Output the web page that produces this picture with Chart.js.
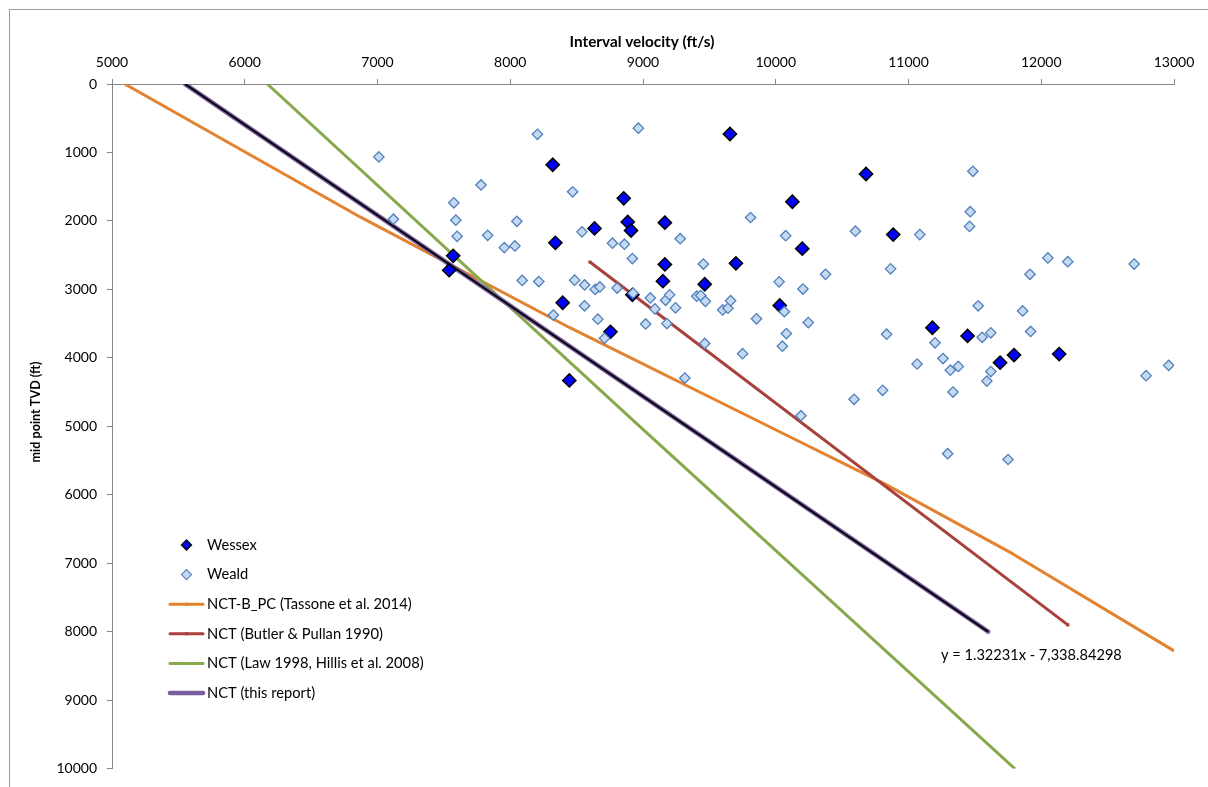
<!DOCTYPE html>
<html>
<head>
<meta charset="utf-8">
<script src="https://cdn.jsdelivr.net/npm/chart.js@4.4.1/dist/chart.umd.min.js"></script>
<style>
html,body{margin:0;padding:0;background:#fff;}
#wrap{position:relative;width:1208px;height:787px;}
</style>
</head>
<body>
<div id="wrap"><canvas id="c" width="1208" height="787"></canvas></div>
<script>
// ---------- data ----------
const xTitle = 'Interval velocity (ft/s)';
const yTitle = 'mid point TVD (ft)';
const xMin = 5000, xMax = 13000, xStep = 1000;
const yMin = 0, yMax = 10000, yStep = 1000;

const wessexLabel = 'Wessex';
const wessexVel = [8320, 8635, 8340, 7570, 7540, 8395, 8755, 9655, 8855, 10125, 8885, 8910, 9165, 10200,
  9165, 9700, 9150, 9465, 8920, 10030, 8445, 10680, 10885, 11180, 11445, 11795, 12135, 11690];
const wessexDepth = [1180, 2110, 2320, 2510, 2720, 3195, 3620, 730, 1670, 1720, 2015, 2140, 2025, 2405,
  2635, 2620, 2880, 2925, 3080, 3235, 4330, 1315, 2200, 3560, 3680, 3960, 3945, 4070];

const wealdLabel = 'Weald';
const wealdVel = [7010, 8205, 7780, 8470, 7575, 7120, 7590, 8050, 7600, 7830, 8540, 7955, 8035, 8770,
  8090, 8215, 8485, 8560, 8640, 8675, 8805, 8560, 8325, 8660, 8710,
  8965, 9810, 10075, 10600, 8860, 9280, 8920, 9455, 10025, 10205, 10375, 8925, 9055, 9170, 9200,
  9090, 9245, 9405, 9435, 9470, 9600, 9640, 9660, 10065, 9855, 10245, 9020, 9180, 10080, 10050, 9465, 9750,
  11485, 11465, 11460, 11085, 10865, 12050, 12200, 12700, 11915, 11525, 11860, 10835, 11200, 11555,
  11620, 11920, 11260, 11065, 12960,
  9315, 10590, 10190, 11315, 11375, 11620, 11590, 10805, 11335, 12790, 11295, 11750];
const wealdDepth = [1065, 735, 1475, 1575, 1735, 1975, 1990, 2005, 2225, 2210, 2160, 2390, 2365, 2325,
  2870, 2885, 2865, 2935, 3000, 2965, 2980, 3240, 3375, 3435, 3715,
  645, 1950, 2215, 2150, 2340, 2260, 2550, 2630, 2890, 2995, 2780, 3055, 3125, 3160, 3080,
  3285, 3270, 3100, 3090, 3175, 3300, 3275, 3165, 3325, 3430, 3485, 3505, 3500, 3645, 3830, 3790, 3940,
  1275, 1865, 2080, 2200, 2700, 2540, 2595, 2630, 2780, 3240, 3315, 3655, 3780, 3700,
  3635, 3615, 4010, 4090, 4110,
  4295, 4605, 4845, 4180, 4125, 4200, 4340, 4475, 4500, 4260, 5400, 5485];

const tassoneLabel = 'NCT-B_PC (Tassone et al. 2014)';
const tassoneVel = [5096, 6869, 8449, 9881, 10810, 11790, 13000];
const tassoneDepth = [0, 1942, 3560, 4937, 5831, 6868, 8280];

const butlerLabel = 'NCT (Butler & Pullan 1990)';
const butlerVel = [8600, 12200];
const butlerDepth = [2600, 7900];

const lawLabel = 'NCT (Law 1998, Hillis et al. 2008)';
const lawVel = [6170, 8940, 11800];
const lawDepth = [0, 4940, 10000];

const reportLabel = 'NCT (this report)';
const reportVel = [5550, 11600];
const reportDepth = [0, 8000];

const trendText = 'y = 1.32231x - 7,338.84298';
const trendTextAt = {x: 11245, y: 8350};

// ---------- styles ----------
const FONT = 'Lato, "Open Sans", "DejaVu Sans", sans-serif';
const AXIS_GREY = '#868686';
const C_ORANGE = '#E3822F', C_RED = '#A8413C', C_GREEN = '#88A94B', C_PURPLE = '#7B5EA0';

const pts = (xs, ys) => xs.map((x, i) => ({x: x, y: ys[i]}));

const lineDs = (label, xs, ys, color, width, order, extra) => Object.assign({
  label: label, data: pts(xs, ys), showLine: true, borderColor: color, backgroundColor: color,
  borderWidth: width, pointRadius: 1.6, pointStyle: 'rect', pointBorderWidth: 0,
  pointBackgroundColor: color, order: order, tension: 0, borderJoinStyle: 'round'
}, extra || {});

const datasets = [
  {label: wealdLabel, data: pts(wealdVel, wealdDepth), pointStyle: 'rectRot', pointRadius: 5.2,
   backgroundColor: '#C6D9F1', borderColor: '#4F81BD', borderWidth: 1.3, order: 0, legend: 'weald'},
  {label: wessexLabel, data: pts(wessexVel, wessexDepth), pointStyle: 'rectRot', pointRadius: 6.6,
   backgroundColor: '#0000FF', borderColor: '#000000', borderWidth: 1.5, order: 1, legend: 'wessex'},
  lineDs('trendline', reportVel, reportDepth, '#000000', 1.8, 2, {pointRadius: 0}),
  lineDs(reportLabel, reportVel, reportDepth, C_PURPLE, 4.6, 3, {pointRadius: 0, borderCapStyle: 'round'}),
  lineDs(lawLabel, lawVel, lawDepth, C_GREEN, 3, 4),
  lineDs(butlerLabel, butlerVel, butlerDepth, C_RED, 3, 5, {pointRadius: 2.2}),
  lineDs(tassoneLabel, tassoneVel, tassoneDepth, C_ORANGE, 3, 6, {pointRadius: 0})
];
const legendOrder = [wessexLabel, wealdLabel, tassoneLabel, butlerLabel, lawLabel, reportLabel];

// ---------- plugins ----------
const framePlugin = {
  id: 'frame',
  beforeDraw(chart) {
    const c = chart.ctx;
    c.save();
    c.fillStyle = '#ffffff';
    c.fillRect(0, 0, chart.width, chart.height);
    c.strokeStyle = '#9c9c9c';
    c.lineWidth = 1;
    c.strokeRect(9.5, 9.5, chart.width + 20, chart.height + 20);
    c.restore();
  }
};

const titlesPlugin = {
  id: 'axisTitles',
  afterDraw(chart, args, opts) {
    const c = chart.ctx;
    c.save();
    c.fillStyle = '#000';
    c.textAlign = 'center';
    c.textBaseline = 'middle';
    c.font = 'bold ' + opts.xSize + 'px ' + FONT;
    c.fillText(xTitle, opts.xAt[0], opts.xAt[1]);
    c.translate(opts.yAt[0], opts.yAt[1]);
    c.rotate(-Math.PI / 2);
    c.font = 'bold ' + opts.ySize + 'px ' + FONT;
    c.fillText(yTitle, 0, 0);
    c.restore();
  }
};

function diamond(c, x, y, r) {
  c.beginPath();
  c.moveTo(x - r, y); c.lineTo(x, y - r); c.lineTo(x + r, y); c.lineTo(x, y + r);
  c.closePath();
}

const legendPlugin = {
  id: 'customLegend',
  afterDraw(chart, args, opts) {
    const c = chart.ctx;
    c.save();
    c.font = opts.size + 'px ' + FONT;
    c.textBaseline = 'middle';
    c.textAlign = 'left';
    legendOrder.forEach((lab, i) => {
      const ds = chart.data.datasets.find(d => d.label === lab);
      const y = opts.top + i * opts.rowGap;
      const cx = opts.left + opts.sample / 2;
      if (!ds.showLine) {
        diamond(c, cx, y, 5);
        c.fillStyle = ds.backgroundColor; c.fill();
        c.lineWidth = ds.legend === 'wessex' ? 1.3 : 1.1;
        c.strokeStyle = ds.borderColor; c.stroke();
      } else {
        c.beginPath();
        c.moveTo(opts.left, y); c.lineTo(opts.left + opts.sample, y);
        c.strokeStyle = ds.borderColor;
        c.lineWidth = ds.borderWidth;
        c.lineCap = 'round';
        c.stroke();
        if (ds.label === reportLabel) {
          c.beginPath(); c.moveTo(opts.left + 2, y); c.lineTo(opts.left + opts.sample - 2, y);
          c.strokeStyle = C_PURPLE; c.lineWidth = 3; c.stroke();
        } else {
          c.fillStyle = ds.borderColor;
          c.fillRect(cx - 1.5, y - 1.5, 3, 3);
        }
      }
      c.fillStyle = '#000';
      c.fillText(lab, opts.left + opts.sample + 4, y);
    });
    c.restore();
  }
};

const eqPlugin = {
  id: 'eqText',
  afterDraw(chart, args, opts) {
    const c = chart.ctx;
    const x = chart.scales.x.getPixelForValue(trendTextAt.x);
    const y = chart.scales.y.getPixelForValue(trendTextAt.y);
    c.save();
    c.font = opts.size + 'px ' + FONT;
    c.fillStyle = '#000';
    c.textBaseline = 'middle';
    c.textAlign = 'left';
    c.fillText(trendText, x, y);
    c.restore();
  }
};

// ---------- chart ----------
const tickFont = {family: FONT, size: 14};

new Chart(document.getElementById('c').getContext('2d'), {
  type: 'scatter',
  data: {datasets: datasets},
  options: {
    responsive: false,
    animation: false,
    devicePixelRatio: 1,
    layout: {padding: {left: 0, top: 0, right: 34, bottom: 13}},
    plugins: {
      legend: {display: false},
      tooltip: {enabled: false},
      customLegend: {left: 170, top: 545, rowGap: 29.6, sample: 33, size: 14.7},
      eqText: {size: 14.6},
      axisTitles: {xSize: 15.3, xAt: [642, 42], ySize: 12.6, yAt: [35.5, 412]}
    },
    scales: {
      x: {
        type: 'linear', position: 'top', min: xMin, max: xMax,
        ticks: {stepSize: xStep, font: tickFont, color: '#000', padding: 8, maxRotation: 0,
                callback: v => String(v)},
        grid: {drawOnChartArea: false, drawTicks: true, tickLength: 5, color: AXIS_GREY},
        border: {color: AXIS_GREY, width: 1},
        title: {display: false},
        afterFit: s => { s.height = 84; }
      },
      y: {
        type: 'linear', position: 'left', reverse: true, min: yMin, max: yMax,
        ticks: {stepSize: yStep, font: tickFont, color: '#000', padding: 10,
                callback: v => String(v)},
        grid: {drawOnChartArea: false, drawTicks: true, tickLength: 5, color: AXIS_GREY},
        border: {color: AXIS_GREY, width: 1},
        title: {display: false},
        afterFit: s => { s.width = 112; }
      }
    }
  },
  plugins: [framePlugin, titlesPlugin, legendPlugin, eqPlugin]
});
</script>
</body>
</html>
